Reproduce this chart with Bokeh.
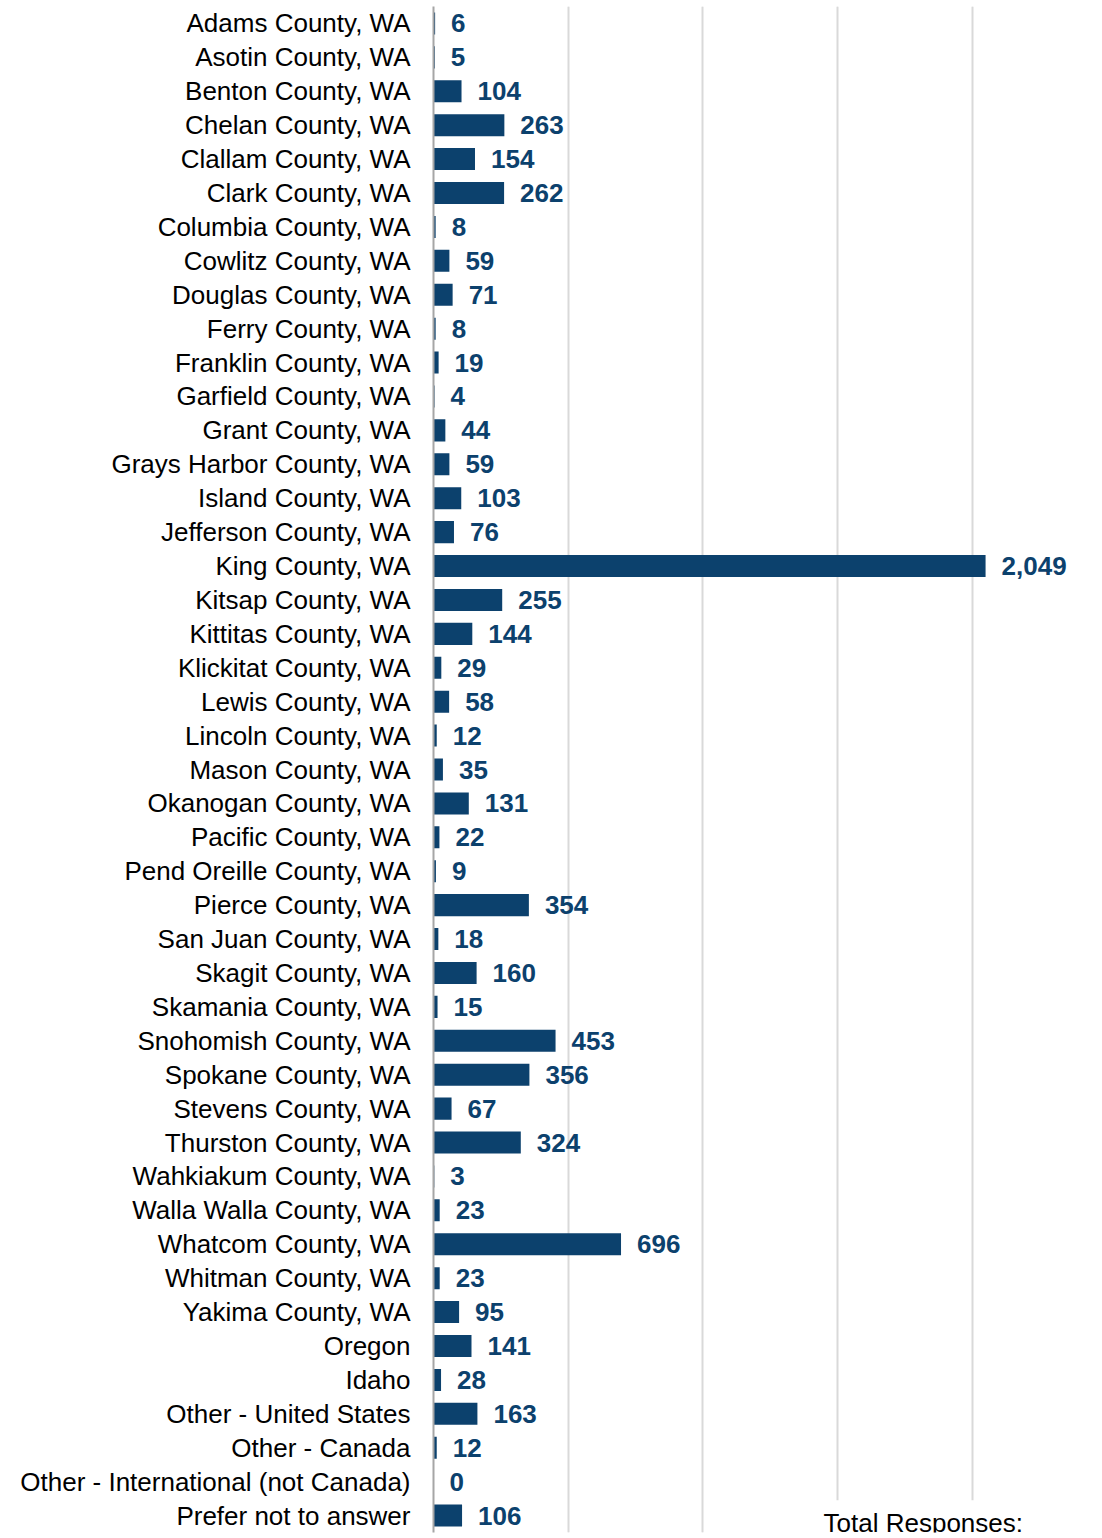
from bokeh.plotting import figure
from bokeh.models import ColumnDataSource, Range1d, FactorRange, Grid, FixedTicker, Label
from bokeh.core.properties import value
from bokeh.embed import file_html
from bokeh.resources import INLINE

categories = [
    "Adams County, WA", "Asotin County, WA", "Benton County, WA", "Chelan County, WA",
    "Clallam County, WA", "Clark County, WA", "Columbia County, WA", "Cowlitz County, WA",
    "Douglas County, WA", "Ferry County, WA", "Franklin County, WA", "Garfield County, WA",
    "Grant County, WA", "Grays Harbor County, WA", "Island County, WA", "Jefferson County, WA",
    "King County, WA", "Kitsap County, WA", "Kittitas County, WA", "Klickitat County, WA",
    "Lewis County, WA", "Lincoln County, WA", "Mason County, WA", "Okanogan County, WA",
    "Pacific County, WA", "Pend Oreille County, WA", "Pierce County, WA", "San Juan County, WA",
    "Skagit County, WA", "Skamania County, WA", "Snohomish County, WA", "Spokane County, WA",
    "Stevens County, WA", "Thurston County, WA", "Wahkiakum County, WA", "Walla Walla County, WA",
    "Whatcom County, WA", "Whitman County, WA", "Yakima County, WA", "Oregon", "Idaho",
    "Other - United States", "Other - Canada", "Other - International (not Canada)",
    "Prefer not to answer",
]
counts = [
    6, 5, 104, 263, 154, 262, 8, 59, 71, 8, 19, 4, 44, 59, 103, 76,
    2049, 255, 144, 29, 58, 12, 35, 131, 22, 9, 354, 18, 160, 15, 453, 356,
    67, 324, 3, 23, 696, 23, 95, 141, 28, 163, 12, 0, 106,
]
grid_ticks = [500, 1000, 1500, 2000]
footer_text = "Total Responses:"

BAR = "#0C416D"
FONT = "Liberation Sans"

src = ColumnDataSource(dict(
    cat=categories,
    val=counts,
    lbl=[f"{v:,}" for v in counts],
))

p = figure(
    width=1102, height=1538,
    y_range=FactorRange(factors=list(reversed(categories)), range_padding=0),
    x_range=Range1d(0, 2483),
    x_axis_location=None,
    output_backend="svg", toolbar_location=None,
    min_border_left=433, min_border_right=0, min_border_top=6, min_border_bottom=6,
)
p.outline_line_color = None
p.ygrid.visible = False
p.add_layout(Grid(dimension=0, ticker=FixedTicker(ticks=grid_ticks),
                  grid_line_color="#D9D9D9", grid_line_width=2))

p.hbar(y="cat", right="val", left=0, height=0.65, source=src,
       fill_color=BAR, line_color=None)
p.text(x="val", y="cat", text="lbl", source=src, x_offset=16,
       text_align="left", text_baseline="middle",
       text_font=value(FONT), text_font_style="bold",
       text_font_size="26px", text_color=BAR)

ax = p.yaxis[0]
ax.major_tick_line_color = None
ax.minor_tick_line_color = None
ax.major_tick_out = 0
ax.major_tick_in = 0
ax.major_label_standoff = 23
ax.major_label_text_font = FONT
ax.major_label_text_font_size = "26px"
ax.major_label_text_color = "#000000"
ax.axis_line_color = "#A6A6A6"
ax.axis_line_width = 2

p.add_layout(Label(x=1418, y=0.27, text=footer_text,
                   text_font=FONT, text_font_size="26px", text_color="#000000",
                   text_baseline="alphabetic", background_fill_color="white",
                   padding=8))

open("out.html", "w").write(file_html(p, INLINE))
